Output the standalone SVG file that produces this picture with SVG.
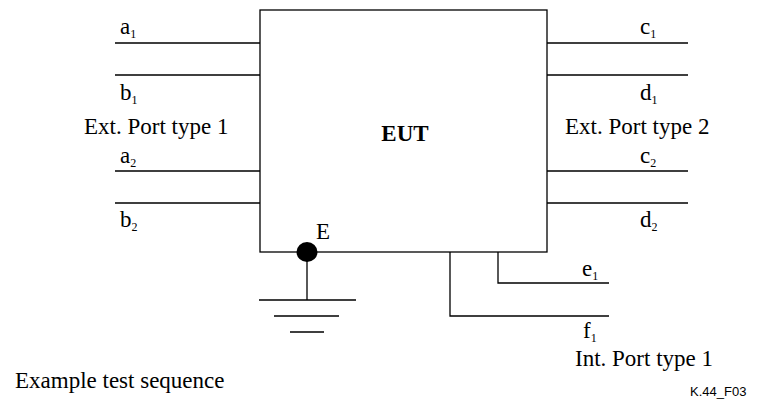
<svg xmlns="http://www.w3.org/2000/svg" width="760" height="406" viewBox="0 0 760 406">
<style>
.l{stroke:#000;stroke-width:1.3;fill:none}
.t{font-family:"Liberation Serif","Times New Roman",serif;font-size:23px;fill:#000}
.s{font-size:12px}
.b{font-weight:bold}
.k{font-family:"Liberation Sans",Arial,sans-serif;font-size:13px;fill:#000}
</style>
<rect width="760" height="406" fill="#fff"/>
<g id="eut">
<rect class="l" x="260" y="10" width="287" height="242"/>
<text class="t b" x="405" y="141" text-anchor="middle">EUT</text>
</g>
<g id="connectors">
<path class="l" d="M115 43H260M115 75H260M115 171H260M115 203H260"/>
<path class="l" d="M547 43H688M547 75H688M547 171H688M547 203H688"/>
<path class="l" d="M498 252V283H609M450 252V316H609"/>
<path class="l" d="M307 252V300M259 300H356M274 316H339M290 332H324"/>
</g>
<g id="ground">
<ellipse cx="307" cy="252" rx="10.5" ry="10" fill="#000"/>
<text class="t" x="316" y="239">E</text>
</g>
<g id="port1">
<text class="t" x="120" y="34">a<tspan class="s" dy="4">1</tspan></text>
<text class="t" x="120" y="100">b<tspan class="s" dy="4">1</tspan></text>
<text class="t" x="84" y="134">Ext. Port type 1</text>
<text class="t" x="120" y="163">a<tspan class="s" dy="4">2</tspan></text>
<text class="t" x="120" y="227">b<tspan class="s" dy="4">2</tspan></text>
</g>
<g id="port2">
<text class="t" x="640" y="34">c<tspan class="s" dy="4">1</tspan></text>
<text class="t" x="640" y="100">d<tspan class="s" dy="4">1</tspan></text>
<text class="t" x="565" y="134">Ext. Port type 2</text>
<text class="t" x="640" y="163">c<tspan class="s" dy="4">2</tspan></text>
<text class="t" x="640" y="227">d<tspan class="s" dy="4">2</tspan></text>
</g>
<g id="intport">
<text class="t" x="582" y="276">e<tspan class="s" dy="4">1</tspan></text>
<text class="t" x="583" y="338">f<tspan class="s" dy="4">1</tspan></text>
<text class="t" x="575" y="366">Int. Port type 1</text>
</g>
<g id="caption">
<text class="t" x="15" y="388">Example test sequence</text>
<text class="k" x="690" y="396">K.44_F03</text>
</g>
</svg>
